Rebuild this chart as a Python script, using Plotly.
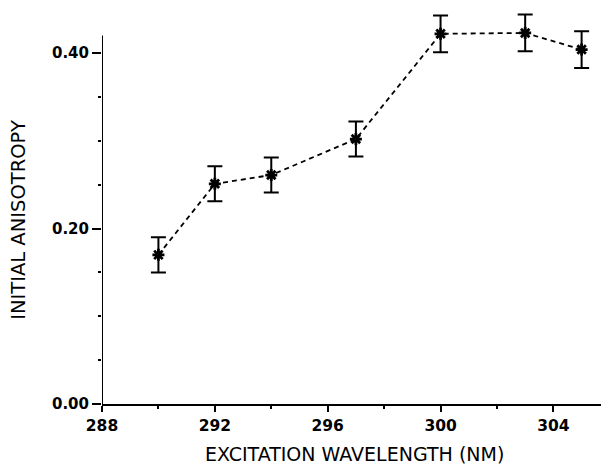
import plotly.graph_objects as go

wavelength = [290, 292, 294, 297, 300, 303, 305]
anisotropy = [0.170, 0.251, 0.261, 0.302, 0.422, 0.423, 0.404]
error = [0.020, 0.020, 0.020, 0.020, 0.021, 0.021, 0.021]

x_ticks = [288, 292, 296, 300, 304]
y_ticks = [0.0, 0.2, 0.4]
y_tick_labels = ["<b>0.00</b>", "<b>0.20</b>", "<b>0.40</b>"]
x_tick_labels = ["<b>%d</b>" % v for v in x_ticks]

FONT = "DejaVu Sans"

fig = go.Figure()
fig.add_trace(go.Scatter(
    x=wavelength, y=anisotropy,
    mode="lines+markers",
    line=dict(color="black", width=1.8, dash="5px,4px"),
    marker=dict(symbol="asterisk", size=10, color="black",
                line=dict(color="black", width=2.8)),
    error_y=dict(type="data", array=error, visible=True,
                 color="black", thickness=2, width=7.5),
    showlegend=False,
    cliponaxis=False,
))

# y axis line drawn only up to 0.42 as in the original
fig.add_shape(type="line", xref="x", yref="y", x0=288, x1=288, y0=0, y1=0.42,
              line=dict(color="black", width=2))

fig.update_layout(
    width=601, height=459,
    margin=dict(l=94, r=2, t=3, b=63),
    paper_bgcolor="white", plot_bgcolor="white",
    font=dict(family=FONT, color="black"),
    xaxis=dict(
        range=[288, 305.9], tickvals=x_ticks, ticktext=x_tick_labels,
        ticks="outside", ticklen=6, tickwidth=1.5, tickcolor="black",
        minor=dict(tickvals=[290, 294, 298, 302], ticks="outside", ticklen=3,
                   tickwidth=1.5, tickcolor="black"),
        showline=True, linecolor="black", linewidth=2,
        showgrid=False, zeroline=False,
        tickfont=dict(family=FONT, size=15.5, color="black"),
    ),
    yaxis=dict(
        range=[0, 0.448], tickvals=y_ticks, ticktext=y_tick_labels,
        ticks="outside", ticklen=9, tickwidth=1.5, tickcolor="black",
        minor=dict(tickvals=[0.05, 0.10, 0.15, 0.25, 0.30, 0.35],
                   ticks="outside", ticklen=3, tickwidth=1.5, tickcolor="black"),
        showline=False, showgrid=False, zeroline=False,
        tickfont=dict(family=FONT, size=15, color="black"),
    ),
    annotations=[
        dict(text="EXCITATION WAVELENGTH (NM)", xref="paper", yref="paper",
             x=0.5, y=0, xanchor="center", yanchor="top", yshift=-38,
             borderpad=0,
             showarrow=False, font=dict(family=FONT, size=19, color="black")),
        dict(text="INITIAL ANISOTROPY", xref="paper", yref="y",
             x=0, y=0.21, xanchor="center", yanchor="middle",
             xshift=-83, textangle=-90,
             showarrow=False, font=dict(family=FONT, size=19.5, color="black")),
    ],
)

fig.write_html("out.html")
